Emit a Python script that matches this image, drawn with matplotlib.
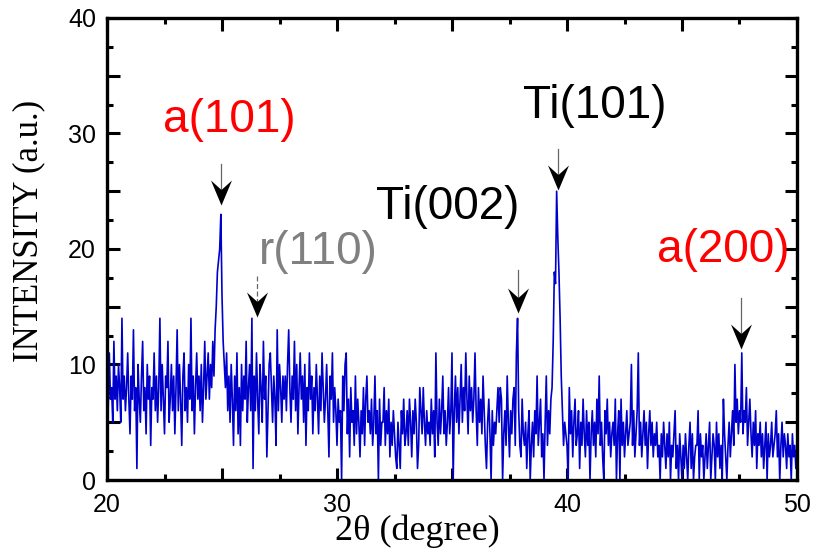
import numpy as np
import matplotlib
matplotlib.use("Agg")
import matplotlib.pyplot as plt
from matplotlib.path import Path
from matplotlib.ticker import MultipleLocator, FuncFormatter

# XRD scan, 20 to 50 deg in 0.05 deg steps (one row per degree)
start_angle = 20.0
step = 0.05
counts_rows = [
    [9, 6, 11, 7, 8, 5, 12, 7, 9, 6, 10, 8, 5, 14, 7, 9, 6, 8, 11, 7],     # 20
    [4, 9, 7, 13, 6, 8, 1, 10, 7, 5, 9, 12, 6, 8, 4, 10, 7, 9, 3, 8],      # 21
    [7, 11, 6, 9, 5, 8, 14, 6, 10, 7, 4, 9, 8, 12, 5, 7, 10, 6, 9, 4],     # 22
    [8, 13, 6, 10, 7, 3, 9, 11, 6, 8, 5, 10, 7, 14, 6, 9, 4, 8, 11, 7],    # 23
    [9, 6, 10, 5, 8, 12, 7, 9, 11, 7, 10, 8, 12, 9, 13, 15, 18, 19, 20, 23],  # 24
    [16, 12, 10, 8, 11, 6, 9, 5, 10, 7, 3, 9, 6, 11, 4, 8, 3, 10, 6, 9],   # 25
    [7, 12, 5, 8, 10, 6, 14, 1, 9, 6, 11, 7, 4, 10, 8, 5, 12, 7, 9, 2],    # 26
    [6, 10, 11, 8, 5, 9, 7, 3, 13, 6, 10, 8, 5, 9, 7, 9, 6, 10, 13, 8],    # 27
    [5, 9, 7, 12, 6, 10, 4, 8, 11, 7, 9, 5, 10, 3, 8, 6, 11, 7, 9, 4],     # 28
    [8, 6, 10, 7, 4, 9, 6, 11, 8, 5, 7, 10, 6, 2, 9, 7, 11, 5, 8, 6],      # 29
    [3, 7, 5, 6, 0, 9, 6, 10, 11, 4, 7, 2, 8, 5, 6, 3, 9, 4, 7, 5],        # 30
    [2, 6, 4, 8, 3, 7, 9, 5, 6, 4, 7, 3, 5, 9, 4, 6, 0, 7, 3, 5],          # 31
    [5, 8, 3, 6, 4, 7, 2, 5, 3, 6, 4, 2, 1, 5, 3, 1, 6, 4, 7, 3],          # 32
    [4, 6, 3, 7, 5, 2, 6, 4, 7, 5, 1, 3, 8, 6, 4, 8, 5, 3, 6, 4],          # 33
    [5, 3, 7, 4, 6, 2, 11, 5, 3, 7, 4, 6, 9, 4, 6, 3, 5, 8, 4, 6],         # 34
    [11, 0, 6, 9, 5, 8, 4, 7, 10, 5, 8, 6, 11, 7, 4, 9, 6, 8, 5, 7],       # 35
    [11, 6, 3, 8, 5, 7, 4, 9, 6, 3, 1, 5, 7, 4, 0, 6, 3, 5, 4, 6],         # 36
    [8, 5, 8, 7, 0, 4, 6, 3, 9, 5, 2, 6, 4, 7, 8, 3, 11, 14, 6, 3],        # 37
    [2, 7, 4, 3, 5, 1, 4, 6, 0, 3, 5, 2, 6, 4, 9, 3, 5, 7, 2, 4],          # 38
    [0, 5, 9, 3, 6, 4, 7, 8, 12, 18, 17, 25, 21, 18, 14, 9, 6, 3, 5, 4],   # 39
    [3, 0, 8, 4, 6, 2, 5, 7, 3, 4, 6, 1, 5, 3, 7, 4, 2, 6, 3, 5],          # 40
    [0, 4, 6, 3, 5, 2, 7, 4, 9, 3, 5, 2, 0, 6, 4, 7, 3, 5, 2, 4],          # 41
    [5, 3, 7, 0, 4, 6, 0, 7, 3, 5, 2, 4, 6, 3, 4, 5, 10, 3, 6, 2],         # 42
    [4, 6, 11, 3, 5, 2, 4, 6, 3, 5, 1, 4, 6, 3, 5, 2, 4, 3, 5, 2],         # 43
    [3, 0, 4, 2, 5, 3, 1, 4, 2, 5, 0, 3, 2, 4, 6, 1, 3, 0, 4, 2],          # 44
    [0, 3, 1, 4, 2, 0, 3, 5, 1, 4, 0, 2, 3, 3, 6, 0, 4, 2, 3, 0],          # 45
    [2, 4, 1, 3, 5, 0, 2, 4, 3, 0, 5, 2, 4, 1, 3, 0, 7, 4, 2, 0],          # 46
    [3, 5, 2, 4, 6, 3, 10, 5, 7, 4, 6, 5, 11, 4, 6, 5, 8, 3, 5, 7],        # 47
    [4, 2, 5, 3, 6, 1, 4, 3, 5, 2, 4, 1, 3, 5, 0, 4, 2, 3, 5, 2],          # 48
    [3, 4, 6, 2, 4, 0, 3, 5, 2, 4, 3, 1, 4, 2, 3, 0, 4, 2, 3, 1],          # 49
    [2],                                                                   # 50
]

# peak labels
peak_labels = ["a(101)", "r(110)", "Ti(002)", "Ti(101)", "a(200)"]
label_colors = ["red", "#808080", "black", "black", "red"]
label_x = [25.3, 29.2, 34.8, 41.2, 46.8]
label_y = [31.2, 19.7, 23.6, 32.4, 19.9]
# arrows: x, stem top, tip
arrow_x = [24.96, 26.5, 37.87, 39.6, 47.57]
arrow_top = [27.4, 17.7, 18.2, 28.7, 15.8]
arrow_tip = [23.8, 14.1, 14.5, 25.1, 11.3]
arrow_dashed = [False, True, False, False, False]

counts = np.array([c for row in counts_rows for c in row], dtype=float)
two_theta = start_angle + step * np.arange(len(counts))

fig = plt.figure(figsize=(8.17, 5.55), dpi=100)
ax = fig.add_axes([107 / 817, 75 / 555, 690 / 817, 462 / 555])

ax.plot(two_theta, counts, color="#0000CC", linewidth=1.2)

ax.set_xlim(20, 50)
ax.set_ylim(0, 40)
ax.xaxis.set_major_locator(MultipleLocator(5))
ax.xaxis.set_minor_locator(MultipleLocator(2.5))
ax.yaxis.set_major_locator(MultipleLocator(5))
ax.yaxis.set_minor_locator(MultipleLocator(2.5))
every10 = FuncFormatter(lambda v, p: f"{v:.0f}" if abs(v % 10) < 1e-6 else "")
ax.xaxis.set_major_formatter(every10)
ax.yaxis.set_major_formatter(every10)
ax.tick_params(which="both", direction="in", top=True, right=True, width=2.2)
ax.tick_params(which="major", length=9, labelsize=18)
ax.tick_params(which="minor", length=4.5)
ax.tick_params(axis="x", which="major", pad=9)
ax.tick_params(axis="y", which="major", pad=8)
for lab in ax.get_xticklabels() + ax.get_yticklabels():
    lab.set_family(["Liberation Sans", "DejaVu Sans"])
for sp in ax.spines.values():
    sp.set_linewidth(2.4)

serif = ["Liberation Serif", "DejaVu Serif"]
ax.set_xlabel("2θ (degree)", fontsize=26, family=serif)
ax.set_ylabel("INTENSITY (a.u.)", fontsize=25, family=serif)
ax.xaxis.set_label_coords(0.45, -0.075)
ax.yaxis.set_label_coords(-0.09, 0.54)

# arrow head marker: tip at origin, concave back
head = Path([(0, 0), (-0.42, 1.0), (0, 0.62), (0.42, 1.0), (0, 0)],
            [Path.MOVETO, Path.LINETO, Path.LINETO, Path.LINETO, Path.CLOSEPOLY])

for x, top, tip, dashed in zip(arrow_x, arrow_top, arrow_tip, arrow_dashed):
    ax.plot([x, x], [top, tip + 1.0], color="#666666", linewidth=0.9,
            linestyle=(0, (4, 2)) if dashed else "-")
    ax.plot([x], [tip], marker=head, markersize=36, color="black",
            markeredgewidth=0, linestyle="none")

for text, c, x, y in zip(peak_labels, label_colors, label_x, label_y):
    ax.text(x, y, text, color=c, fontsize=33, ha="center", va="center",
            family=["Liberation Sans", "DejaVu Sans"])

fig.savefig("out.png", dpi=100)
